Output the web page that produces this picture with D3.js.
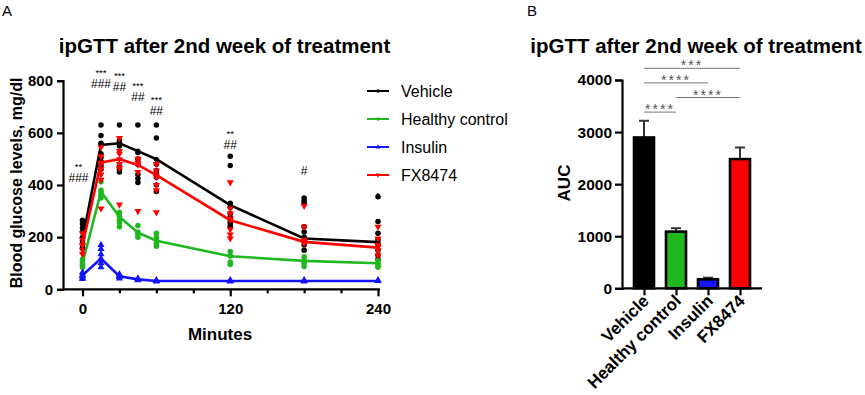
<!DOCTYPE html>
<html>
<head>
<meta charset="utf-8">
<script src="https://cdn.jsdelivr.net/npm/d3@7"></script>
<style>
  body { margin: 0; background: #fff; }
  svg text { font-family: "Liberation Sans", Arial, sans-serif; }
</style>
</head>
<body>
<div id="chart"></div>
<script>
// ---- data ----
var groups = ["Vehicle", "Healthy control", "Insulin", "FX8474"];
var colors = ["#000000", "#1fb81f", "#1414ff", "#ff0000"];
var times = [0, 15, 30, 45, 60, 120, 180, 240];

// mean curves (mg/dl)
var vehicleMean = [190, 554, 560, 530, 499, 323, 195, 181];
var healthyMean = [100, 374, 278, 217, 186, 127, 109, 100];
var insulinMean = [54, 118, 50, 38, 32, 32, 32, 32];
var fxMean = [169, 486, 499, 477, 438, 265, 182, 160];

// individual animals, one list per time point
var vehiclePts = [
  [265, 250, 235, 220, 200, 185, 170, 160],
  [630, 590, 560, 520, 505, 490, 475, 460],
  [630, 570, 560, 550, 470, 460, 450],
  [630, 525, 500, 480, 440, 425, 410],
  [630, 580, 480, 455, 440, 430, 400, 375],
  [510, 475, 330, 315, 290, 275, 260, 250, 240],
  [350, 340, 330, 240, 220, 200, 185, 170, 150],
  [355, 260, 215, 190, 170, 150, 130, 115]
];
var healthyPts = [
  [115, 105, 95, 90, 85],
  [412, 380, 370, 360, 350],
  [295, 280, 265, 255, 240],
  [245, 220, 210, 200],
  [215, 200, 190, 175, 165],
  [145, 130, 105, 95],
  [125, 112, 100, 87],
  [110, 100, 90, 85]
];
var insulinPts = [
  [65, 55, 50, 45, 40],
  [170, 155, 135, 115, 100, 85],
  [58, 52, 48, 42],
  [42, 38, 35],
  [35, 32, 30],
  [35, 32, 30],
  [35, 32, 30],
  [35, 32]
];
var fxPts = [
  [215, 190, 170, 150, 135],
  [545, 510, 480, 460, 440, 420, 310],
  [580, 530, 520, 480, 465, 325],
  [500, 485, 450, 300],
  [480, 455, 430, 400, 380, 295],
  [410, 310, 290, 270, 230, 210, 195],
  [320, 240, 190, 175],
  [240, 195, 170, 150, 130]
];

// significance labels above the time course (level = centre of the # row, mg/dl)
var sigTimes = [0, 15, 30, 45, 60, 120, 180];
var sigStars = ["**", "***", "***", "***", "***", "**", ""];
var sigHash = ["###", "###", "##", "##", "##", "##", "#"];
var sigLevel = [435, 795, 783, 745, 691, 561, 461];

// AUC panel
var aucMean = [2896, 1088, 173, 2481];
var aucErr = [3217, 1154, 204, 2704];
var aucPairs = [["Vehicle", "FX8474", "***"], ["Vehicle", "Insulin", "****"],
                ["Healthy control", "FX8474", "****"], ["Vehicle", "Healthy control", "****"]];

var timeTicks = [0, 120, 240];
var glucoseTicks = [0, 200, 400, 600, 800];
var aucTicks = [0, 1000, 2000, 3000, 4000];

var means = [vehicleMean, healthyMean, insulinMean, fxMean];
var points = [vehiclePts, healthyPts, insulinPts, fxPts];
var shapes = [d3.symbolCircle, d3.symbolCircle, d3.symbolTriangle, d3.symbolTriangle];

var svg = d3.select("#chart").append("svg")
  .attr("width", 865).attr("height", 395);

function styleAxis(g, size){
  g.select(".domain").attr("stroke-width", 2.2);
  g.selectAll(".tick line").attr("stroke-width", 2.2);
  g.selectAll(".tick text").style("font-size", size).style("font-weight", "bold")
    .style("font-family", "Liberation Sans, Arial, sans-serif");
}

// ---------------- panel A ----------------
var x = d3.scaleLinear().domain([0, 240]).range([82.5, 378]);
var y = d3.scaleLinear().domain([0, 800]).range([289.3, 80.7]);

svg.append("text").attr("x", 2).attr("y", 16).style("font-size", "15px").text("A");
svg.append("text").attr("x", 224.5).attr("y", 53).attr("text-anchor", "middle")
  .style("font-size", "20.5px").style("font-weight", "bold")
  .text("ipGTT after 2nd week of treatment");

var yAxisA = svg.append("g").attr("transform", "translate(63,0)")
  .call(d3.axisLeft(y).tickValues(glucoseTicks).tickSize(6).tickPadding(4));
var xAxisA = svg.append("g").attr("transform", "translate(0,289.3)")
  .call(d3.axisBottom(x).tickValues(d3.range(0, 241, 30)).tickSize(7).tickPadding(7)
    .tickFormat(function(d){ return timeTicks.indexOf(d) >= 0 ? d : ""; }));
xAxisA.select(".domain").attr("d", "M63,0H380");
xAxisA.selectAll(".tick line").attr("y2", function(d){ return timeTicks.indexOf(d) >= 0 ? 7 : 4; });
styleAxis(yAxisA, "15px");
styleAxis(xAxisA, "15px");

svg.append("text").attr("transform", "translate(22,183)rotate(-90)")
  .attr("text-anchor", "middle").style("font-size", "16px").style("font-weight", "bold")
  .text("Blood glucose levels, mg/dl");
svg.append("text").attr("x", 220).attr("y", 340).attr("text-anchor", "middle")
  .style("font-size", "17px").style("font-weight", "bold").text("Minutes");

var line = d3.line()
  .x(function(d, i){ return x(times[i]); })
  .y(function(d){ return y(d); });

groups.forEach(function(g, gi){
  var layer = svg.append("g").attr("class", "group");
  points[gi].forEach(function(col, ti){
    layer.selectAll(null).data(col).enter().append("path")
      .attr("d", d3.symbol().type(shapes[gi]).size(gi < 2 ? 24 : 22))
      .attr("fill", colors[gi])
      .attr("transform", function(d){
        return "translate(" + x(times[ti]) + "," + y(d) + ")" + (gi === 3 ? "rotate(180)" : "");
      });
  });
  layer.append("path").datum(means[gi])
    .attr("d", line).attr("fill", "none")
    .attr("stroke", colors[gi]).attr("stroke-width", 2.6);
  layer.selectAll(null).data(means[gi]).enter().append("path")
    .attr("d", d3.symbol().type(shapes[gi]).size(20))
    .attr("fill", colors[gi])
    .attr("transform", function(d, i){
      return "translate(" + x(times[i]) + "," + y(d) + ")" + (gi === 3 ? "rotate(180)" : "");
    });
});

// stars (vs vehicle) over hashes, one text block per time point
sigTimes.forEach(function(t, i){
  var cx = x(t) - (t === 0 ? 4 : 0);
  var base = y(sigLevel[i]) + 6.3;
  var txt = svg.append("text").attr("class", "sig").attr("text-anchor", "middle");
  if (sigStars[i]) {
    txt.append("tspan").attr("x", cx).attr("y", base - 12.5)
      .style("font-size", "9.5px").text(sigStars[i]);
  }
  txt.append("tspan").attr("x", cx).attr("y", base)
    .style("font-size", "12px").text(sigHash[i]);
});

// legend
var legend = svg.selectAll(".legend").data(groups).enter().append("g")
  .attr("class", "legend")
  .attr("transform", function(d, i){ return "translate(367," + (91 + 28 * i) + ")"; });
legend.append("line").attr("x1", 0).attr("x2", 22)
  .attr("stroke", function(d, i){ return colors[i]; }).attr("stroke-width", 2);
legend.append("path")
  .attr("d", function(d, i){ return d3.symbol().type(shapes[i]).size(10)(); })
  .attr("fill", function(d, i){ return colors[i]; })
  .attr("transform", function(d, i){ return "translate(11,0)" + (i === 3 ? "rotate(180)" : ""); });
legend.append("text").attr("x", 34).attr("y", 6).style("font-size", "16px")
  .text(function(d){ return d; });
svg.append("circle").attr("cx", 378).attr("cy", 195).attr("r", 1.8).attr("fill", "#000");

// ---------------- panel B ----------------
var xb = d3.scalePoint().domain(groups).range([644, 740]);
var yb = d3.scaleLinear().domain([0, 4000]).range([288.3, 80]);
var barW = 20;

svg.append("text").attr("x", 527).attr("y", 16).style("font-size", "15px").text("B");
svg.append("text").attr("x", 696).attr("y", 53).attr("text-anchor", "middle")
  .style("font-size", "20.5px").style("font-weight", "bold")
  .text("ipGTT after 2nd week of treatment");

var yAxisB = svg.append("g").attr("transform", "translate(622,0)")
  .call(d3.axisLeft(yb).tickValues(aucTicks).tickSize(7).tickPadding(3).tickFormat(d3.format("d")));
var xAxisB = svg.append("g").attr("transform", "translate(0,288.3)")
  .call(d3.axisBottom(xb).tickSize(7).tickFormat(""));
xAxisB.select(".domain").attr("d", "M622,0H762");
styleAxis(yAxisB, "15.5px");
styleAxis(xAxisB, "15.5px");

svg.append("text").attr("transform", "translate(570,183)rotate(-90)")
  .attr("text-anchor", "middle").style("font-size", "17px").style("font-weight", "bold")
  .text("AUC");

// error bars (upper only)
groups.forEach(function(g, i){
  var cx = xb(g);
  svg.append("line").attr("x1", cx).attr("x2", cx)
    .attr("y1", yb(aucMean[i])).attr("y2", yb(aucErr[i]))
    .attr("stroke", "#333").attr("stroke-width", 2);
  svg.append("line").attr("x1", cx - 5).attr("x2", cx + 5)
    .attr("y1", yb(aucErr[i])).attr("y2", yb(aucErr[i]))
    .attr("stroke", "#333").attr("stroke-width", 2);
});

svg.selectAll(".bar").data(groups).enter().append("rect")
  .attr("class", "bar")
  .attr("x", function(d){ return xb(d) - barW / 2; })
  .attr("y", function(d, i){ return yb(aucMean[i]); })
  .attr("width", barW)
  .attr("height", function(d, i){ return yb(0) - yb(aucMean[i]); })
  .attr("fill", function(d, i){ return colors[i]; })
  .attr("stroke", "#000").attr("stroke-width", 2.6);

svg.selectAll(".xlab").data(groups).enter().append("text")
  .attr("class", "xlab")
  .attr("text-anchor", "end")
  .attr("transform", function(d){ return "translate(" + (xb(d) + 6) + ",302)rotate(-45)"; })
  .style("font-size", "17px").style("font-weight", "bold")
  .text(function(d){ return d; });

// comparison brackets
aucPairs.forEach(function(p, i){
  var ly = 68.3 + 14.6 * i;
  svg.append("line").attr("x1", xb(p[0])).attr("x2", xb(p[1]))
    .attr("y1", ly).attr("y2", ly).attr("stroke", "#777").attr("stroke-width", 1);
  svg.append("text").attr("x", (xb(p[0]) + xb(p[1])) / 2).attr("y", ly + 2)
    .attr("text-anchor", "middle").style("font-size", "14px").style("letter-spacing", "2px")
    .attr("fill", "#555").text(p[2]);
});
</script>
</body>
</html>
